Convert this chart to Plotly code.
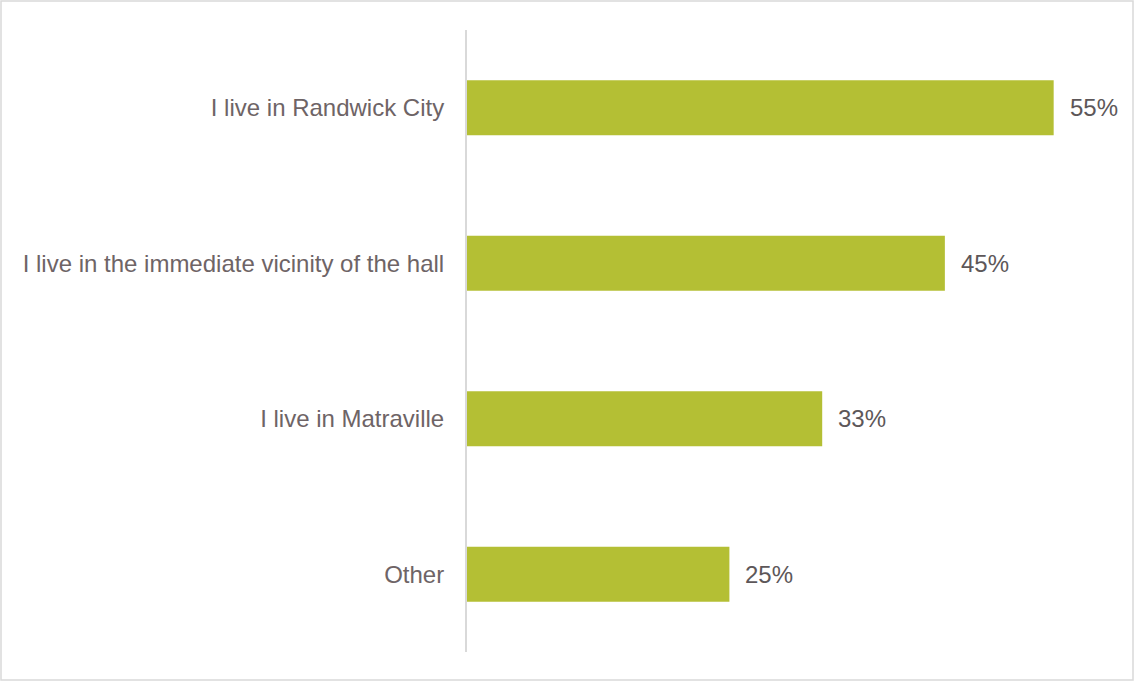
import plotly.graph_objects as go

categories = ["I live in Randwick City", "I live in the immediate vicinity of the hall", "I live in Matraville", "Other"]
values = [55.0, 44.8, 33.3, 24.6]
value_labels = ["55%", "45%", "33%", "25%"]

W, H = 1134, 681
ml, mr, mt, mb = 467, 27, 30, 29
pw, ph = W - ml - mr, H - mt - mb
FONT = "Liberation Sans, Arial, Helvetica, sans-serif"

fig = go.Figure()
fig.add_trace(go.Bar(
    x=values, y=categories, orientation="h",
    marker=dict(color="#b4bf34", line=dict(width=0)),
    hoverinfo="skip",
))

for c, v, t in zip(categories, values, value_labels):
    fig.add_annotation(x=v, y=c, text=t, showarrow=False, xanchor="left", xshift=14,
                       font=dict(family=FONT, size=24, color="#5d5759"))

# chart border
fig.add_shape(type="rect", xref="paper", yref="paper",
              x0=(1 - ml) / pw, x1=(W - 1 - ml) / pw,
              y0=-(H - 1 - mt - ph) / ph, y1=1 + (mt - 1) / ph,
              line=dict(color="#d9d9d9", width=1.5), fillcolor="rgba(0,0,0,0)", layer="below")

fig.update_layout(
    width=W, height=H,
    margin=dict(l=ml, r=mr, t=mt, b=mb, pad=0),
    paper_bgcolor="white", plot_bgcolor="white",
    bargap=0.645,
    showlegend=False,
    font=dict(family=FONT, size=24, color="#6e6466"),
    xaxis=dict(range=[0, 60], visible=False, showgrid=False, zeroline=False, fixedrange=True),
    yaxis=dict(autorange="reversed", showline=True, linecolor="#d9d9d9", linewidth=2,
               ticks="", ticklabelstandoff=16, showgrid=False, zeroline=False,
               tickfont=dict(family=FONT, size=24, color="#6e6466")),
)

fig.write_html("out.html", config={"displayModeBar": False},
               post_script="document.body.style.margin='0';document.body.style.overflow='hidden';")
